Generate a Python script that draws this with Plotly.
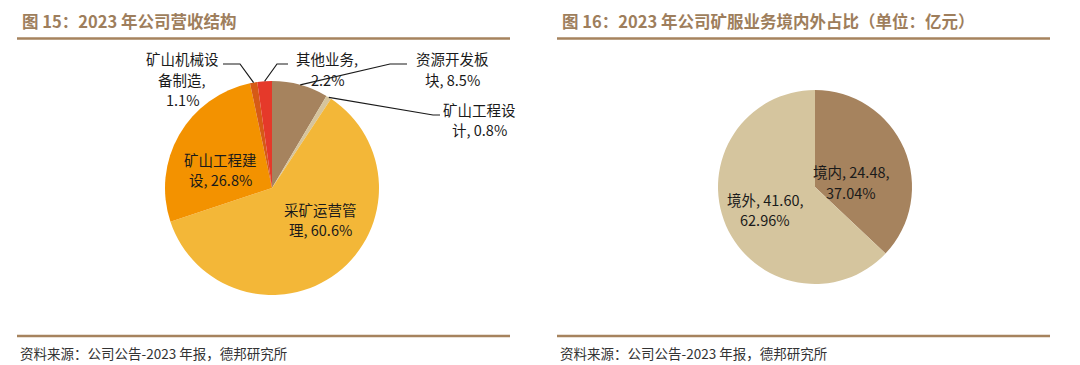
import math
import plotly.graph_objects as go

# The page adds an 8px body margin, so the figure is sized to fit inside it.
OFF = 8
W, H = 1080 - OFF, 365 - OFF

# ---- data ----
rev_labels = ["资源开发板块", "矿山工程设计", "采矿运营管理", "矿山工程建设", "矿山机械设备制造", "其他业务"]
rev_values = [8.5, 0.8, 60.6, 26.8, 1.1, 2.2]
rev_colors = ["#A6835E", "#D6C49C", "#F3B738", "#F39200", "#D65A16", "#E5392A"]

geo_labels = ["境内", "境外"]
geo_values = [24.48, 41.60]
geo_pct = [37.04, 62.96]
geo_colors = ["#A6835E", "#D5C59E"]

title_left = "图 15：2023 年公司营收结构"
title_right = "图 16：2023 年公司矿服业务境内外占比（单位：亿元）"
source_text = "资料来源：公司公告-2023 年报，德邦研究所"

# ---- geometry (screen pixels) ----
L_CX, L_CY, L_R = 272, 188, 107
R_CX, R_CY, R_R = 815, 187, 97
LINE_GAP = 20.5

def px(x):
    return (x - OFF) / W

def py(y):
    return 1 - (y - OFF) / H

def mid_point(values, idx, cx, cy, r, frac=1.0):
    total = sum(values)
    start = sum(values[:idx]) / total
    mid = start + values[idx] / total / 2
    ang = mid * 2 * math.pi
    return cx + frac * r * math.sin(ang), cy - frac * r * math.cos(ang)

fig = go.Figure()

fig.add_trace(go.Pie(
    values=rev_values, labels=rev_labels, sort=False, direction="clockwise",
    rotation=0, marker=dict(colors=rev_colors, line=dict(width=0)),
    textinfo="none", hoverinfo="label+percent", showlegend=False,
    domain=dict(x=[px(L_CX - L_R), px(L_CX + L_R)], y=[py(L_CY + L_R), py(L_CY - L_R)]),
))
fig.add_trace(go.Pie(
    values=geo_values, labels=geo_labels, sort=False, direction="clockwise",
    rotation=0, marker=dict(colors=geo_colors, line=dict(width=0)),
    textinfo="none", hoverinfo="label+value+percent", showlegend=False,
    domain=dict(x=[px(R_CX - R_R), px(R_CX + R_R)], y=[py(R_CY + R_R), py(R_CY - R_R)]),
))

FONT = "Noto Sans CJK SC, Noto Sans, sans-serif"
LBL = dict(family=FONT, size=14.5, color="#1a1a1a")
annotations = []
shapes = []

def add_text(x, y, text, font=LBL, xanchor="center", yanchor="middle"):
    annotations.append(dict(x=px(x), y=py(y), xref="paper", yref="paper", text=text,
                            showarrow=False, font=font, xanchor=xanchor, yanchor=yanchor))

def add_lines(x, y_first, lines):
    for i, t in enumerate(lines):
        add_text(x, y_first + i * LINE_GAP, t)

def pct(v, values):
    return f"{v / sum(values) * 100:.1f}%"

# inside labels (left)
add_lines(220, 159, ["矿山工程建", f"设, {pct(rev_values[3], rev_values)}"])
add_lines(320, 209, ["采矿运营管", f"理, {pct(rev_values[2], rev_values)}"])

# outside labels with leader lines (left)
outside = [
    (4, ["矿山机械设", "备制造,", pct(rev_values[4], rev_values)], (182, 59), [(223, 64), (240, 64)]),
    (5, ["其他业务,", pct(rev_values[5], rev_values)], (327, 59), [(288, 64), (277, 64)]),
    (0, ["资源开发板", f"块, {pct(rev_values[0], rev_values)}"], (452, 59), [(407, 64), (390, 64)]),
    (1, ["矿山工程设", f"计, {pct(rev_values[1], rev_values)}"], (479, 109), [(440, 115), (433, 115)]),
]
for idx, lines, (tx, ty), elbow in outside:
    ax_, ay_ = mid_point(rev_values, idx, L_CX, L_CY, L_R)
    pts = elbow + [(ax_, ay_)]
    path = "M " + " L ".join(f"{px(a):.5f},{py(b):.5f}" for a, b in pts)
    shapes.append(dict(type="path", path=path, xref="paper", yref="paper",
                       line=dict(color="#1a1a1a", width=1.2)))
    add_lines(tx, ty, lines)

# right labels
add_lines(851, 172, [f"{geo_labels[0]}, {geo_values[0]:.2f},", f"{geo_pct[0]:.2f}%"])
add_lines(765, 199, [f"{geo_labels[1]}, {geo_values[1]:.2f},", f"{geo_pct[1]:.2f}%"])

# titles & source
TFONT = dict(family=FONT, size=16.5, color="#9E7E5C")
add_text(20, 21, f"<b>{title_left}</b>", font=TFONT, xanchor="left")
add_text(560, 21, f"<b>{title_right}</b>", font=TFONT, xanchor="left")
SFONT = dict(family=FONT, size=13.5, color="#333333")
add_text(18, 353, source_text, font=SFONT, xanchor="left")
add_text(558, 353, source_text, font=SFONT, xanchor="left")

for x0, x1 in [(17, 510), (557, 1050)]:
    for yy in (38.5, 336):
        shapes.append(dict(type="line", xref="paper", yref="paper",
                           x0=px(x0), x1=px(x1), y0=py(yy), y1=py(yy),
                           line=dict(color="#A6835E", width=2.5)))

fig.update_layout(
    width=W, height=H, margin=dict(l=0, r=0, t=0, b=0),
    paper_bgcolor="white", plot_bgcolor="white",
    annotations=annotations, shapes=shapes, showlegend=False,
)

fig.write_html("out.html")
